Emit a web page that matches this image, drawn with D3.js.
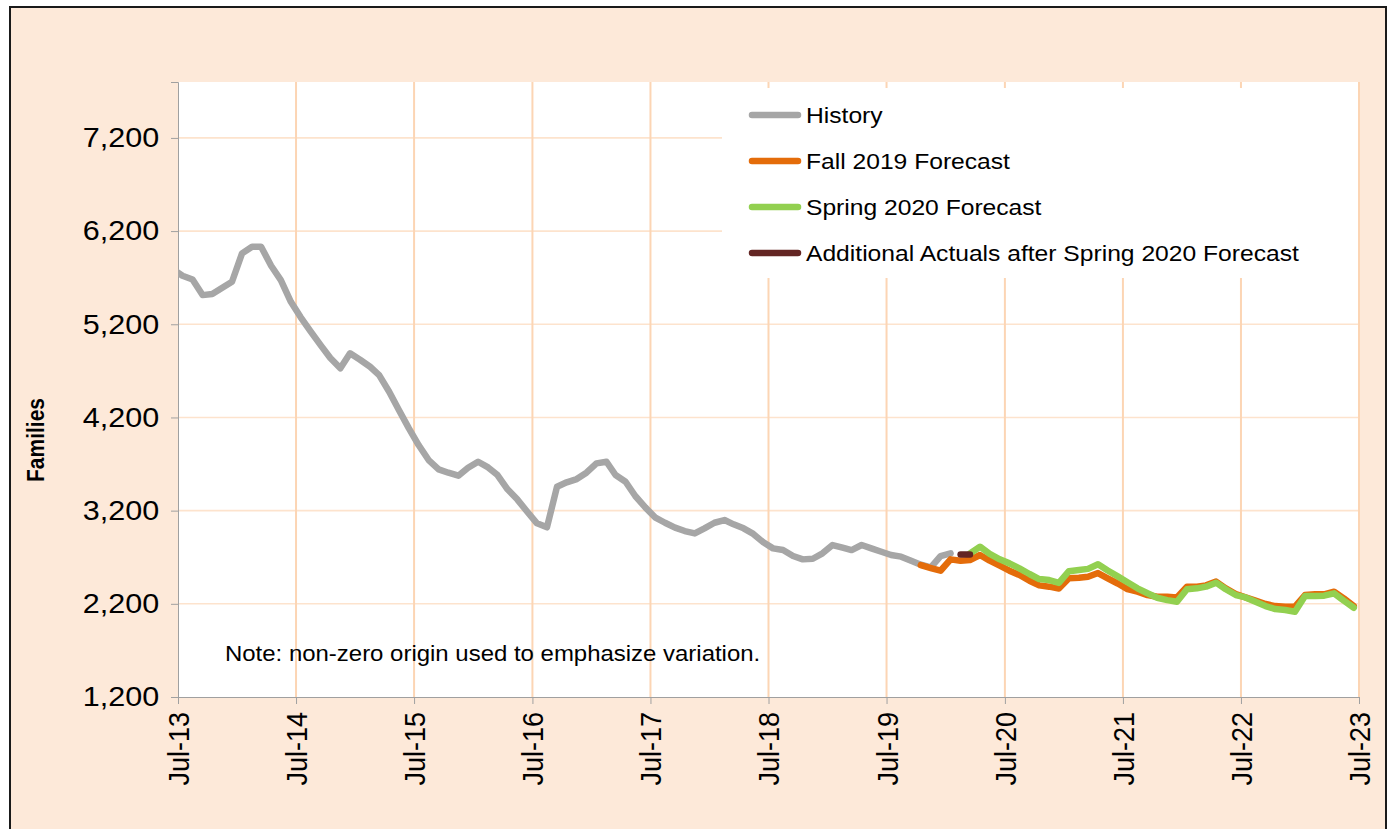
<!DOCTYPE html>
<html>
<head>
<meta charset="utf-8">
<script src="https://cdn.jsdelivr.net/npm/d3@7"></script>
<style>
body { margin: 0; background: #fff; }
text { font-family: "Liberation Sans", Arial, sans-serif; fill: #000; }
</style>
</head>
<body>
<div id="chart"></div>
<script>
// monthly series, each one starts at its own month
var historyStart = 'Jun-13';
var historyValues = [5790, 5720, 5680, 5513, 5525, 5592, 5656,
    5961, 6032, 6032, 5828, 5674, 5441, 5277, 5124, 4977, 4838, 4727, 4888,
    4819, 4744, 4655, 4476, 4280, 4083, 3904, 3743, 3643, 3607, 3575, 3660,
    3725, 3664, 3582, 3429, 3321, 3188, 3064, 3021, 3457, 3504, 3539, 3607,
    3707, 3725, 3582, 3510, 3357, 3235, 3128, 3070, 3017, 2981, 2956, 3010,
    3070, 3099, 3053, 3010, 2950, 2860, 2795, 2777, 2713, 2677, 2684, 2742,
    2831, 2802, 2777, 2831, 2795, 2759, 2724, 2706, 2663, 2620, 2590, 2712,
    2742];

var fall2019Start = 'Oct-19';
var fall2019Values = [2616, 2584, 2555,
    2677, 2663, 2670, 2724, 2663, 2609, 2555, 2509, 2448, 2398, 2384, 2365,
    2474, 2480, 2491, 2530, 2474, 2418, 2358, 2330, 2294, 2276, 2276, 2269,
    2384, 2384, 2398, 2438, 2366, 2305, 2269, 2234, 2198, 2176, 2169, 2169,
    2294, 2302, 2302, 2330, 2259, 2176];

var spring2020Start = 'Mar-20';
var spring2020Values = [2740, 2813, 2735, 2677, 2634, 2580, 2520, 2466, 2455, 2425,
    2550, 2562, 2575, 2625, 2558, 2495, 2432, 2366, 2313, 2265, 2240, 2223,
    2356, 2366, 2384, 2427, 2356, 2294, 2269, 2223, 2176, 2144, 2133, 2115,
    2284, 2284, 2287, 2313, 2234, 2158];

var actualsStart = 'Feb-20';
var actualsValues = [2730, 2730];

var xTickLabels = ['Jul-13', 'Jul-14', 'Jul-15', 'Jul-16', 'Jul-17', 'Jul-18',
    'Jul-19', 'Jul-20', 'Jul-21', 'Jul-22', 'Jul-23'];
var yTickValues = [1200, 2200, 3200, 4200, 5200, 6200, 7200];

var legendLabels = ['History', 'Fall 2019 Forecast', 'Spring 2020 Forecast',
    'Additional Actuals after Spring 2020 Forecast'];
var seriesColors = ['#a6a6a6', '#e46c0a', '#92d050', '#632523'];

var parseMonth = d3.timeParse('%b-%y');

// the original picture is a little wider than tall
var stretch = 'scale(1.11,1)';

var buildSeries = function(start, values) {
    var first = parseMonth(start);
    return values.map(function(v, i) {
        // points sit in the middle of their month
        return { date: d3.timeDay.offset(d3.timeMonth.offset(first, i), 14), value: v };
    });
};

function drawChart() {
    var width = 1400, height = 829;
    var plot = { left: 178, top: 82, right: 1359, bottom: 697 };

    var svg = d3.select('#chart').append('svg')
        .attr('width', width)
        .attr('height', height);

    svg.append('rect')
        .attr('x', 10).attr('y', 7)
        .attr('width', 1376).attr('height', 840)
        .attr('fill', '#fde9d9')
        .attr('stroke', '#1a1a1a')
        .attr('stroke-width', 2);

    var x = d3.scaleTime()
        .domain([parseMonth('Jul-13'), parseMonth('Jul-23')])
        .range([plot.left, plot.right]);
    var y = d3.scaleLinear()
        .domain([1200, 7800])
        .range([plot.bottom, plot.top]);

    svg.append('rect')
        .attr('x', plot.left).attr('y', plot.top)
        .attr('width', plot.right - plot.left)
        .attr('height', plot.bottom - plot.top)
        .attr('fill', '#fff');

    // gridlines
    svg.append('g').selectAll('line')
        .data(yTickValues.slice(1))
        .enter().append('line')
        .attr('x1', plot.left).attr('x2', plot.right)
        .attr('y1', function(d) { return y(d); })
        .attr('y2', function(d) { return y(d); })
        .attr('stroke', '#fde3cd')
        .attr('stroke-width', 1.6);

    svg.append('g').selectAll('line')
        .data(xTickLabels.slice(1))
        .enter().append('line')
        .attr('x1', function(d) { return x(parseMonth(d)); })
        .attr('x2', function(d) { return x(parseMonth(d)); })
        .attr('y1', plot.top).attr('y2', plot.bottom)
        .attr('stroke', '#fcd5b4')
        .attr('stroke-width', 2);

    // legend background covers the grid
    svg.append('rect')
        .attr('x', 722).attr('y', 88)
        .attr('width', 636).attr('height', 190)
        .attr('fill', '#fff');

    // axes
    var yAxis = d3.axisLeft(y)
        .tickValues(yTickValues)
        .tickFormat(d3.format(','))
        .tickSize(7)
        .tickPadding(10);
    var gy = svg.append('g')
        .attr('transform', 'translate(' + plot.left + ',0)')
        .call(yAxis);
    gy.select('.domain').attr('stroke', '#a0a0a0');
    gy.selectAll('.tick line').attr('stroke', '#a0a0a0');
    gy.selectAll('.tick text')
        .style('font-size', '27.5px')
        .attr('transform', stretch);

    var xAxis = d3.axisBottom(x)
        .tickValues(xTickLabels.map(parseMonth))
        .tickFormat(d3.timeFormat('%b-%y'))
        .tickSize(7);
    var gx = svg.append('g')
        .attr('transform', 'translate(0,' + plot.bottom + ')')
        .call(xAxis);
    gx.select('.domain').attr('stroke', '#a0a0a0');
    gx.selectAll('.tick line').attr('stroke', '#a0a0a0');
    gx.selectAll('.tick text')
        .style('font-size', '27px')
        .attr('text-anchor', 'end')
        .attr('transform', stretch + ' rotate(-90)')
        .attr('x', -15)
        .attr('y', 0)
        .attr('dy', '0.35em');

    svg.append('text')
        .attr('transform', 'translate(44,440) ' + stretch + ' rotate(-90)')
        .attr('text-anchor', 'middle')
        .style('font-size', '21px')
        .style('font-weight', 'bold')
        .text('Families');

    svg.append('text')
        .attr('transform', 'translate(225,661) ' + stretch)
        .style('font-size', '21.6px')
        .text('Note: non-zero origin used to emphasize variation.');

    // lines
    svg.append('clipPath').attr('id', 'plot-clip')
        .append('rect')
        .attr('x', plot.left).attr('y', plot.top)
        .attr('width', plot.right - plot.left)
        .attr('height', plot.bottom - plot.top);

    var line = d3.line()
        .x(function(d) { return x(d.date); })
        .y(function(d) { return y(d.value); });

    var series = [
        buildSeries(historyStart, historyValues),
        buildSeries(fall2019Start, fall2019Values),
        buildSeries(spring2020Start, spring2020Values),
        buildSeries(actualsStart, actualsValues)
    ];

    svg.append('g')
        .attr('clip-path', 'url(#plot-clip)')
        .selectAll('path')
        .data(series)
        .enter().append('path')
        .attr('d', line)
        .attr('fill', 'none')
        .attr('stroke', function(d, i) { return seriesColors[i]; })
        .attr('stroke-width', 6.5)
        .attr('stroke-linejoin', 'round')
        .attr('stroke-linecap', 'round');

    // legend
    var legend = svg.append('g').selectAll('g')
        .data(legendLabels)
        .enter().append('g')
        .attr('transform', function(d, i) { return 'translate(752,' + (115 + i * 46) + ')'; });
    legend.append('line')
        .attr('x1', 0).attr('x2', 46)
        .attr('stroke', function(d, i) { return seriesColors[i]; })
        .attr('stroke-width', 6.5)
        .attr('stroke-linecap', 'round');
    legend.append('text')
        .attr('transform', 'translate(54,0) ' + stretch)
        .attr('dy', '0.35em')
        .style('font-size', '22.2px')
        .text(function(d) { return d; });
}

document.addEventListener('DOMContentLoaded', drawChart);
</script>
</body>
</html>
